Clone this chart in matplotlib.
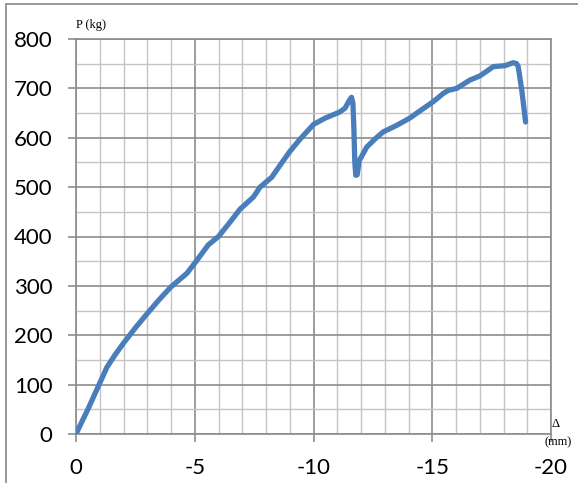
import numpy as np
import matplotlib
matplotlib.use("Agg")
import matplotlib.pyplot as plt
from matplotlib.patches import Rectangle
from matplotlib.ticker import MultipleLocator

plt.rcParams["axes.unicode_minus"] = False

# Load-deflection readings (deflection in mm, load in kg)
delta = [0, -0.5, -1.0, -1.3, -1.64, -2.0, -2.5, -3.0, -3.5, -4.0,
         -4.66, -5.0, -5.57, -6.0, -6.5, -6.9, -7.47, -7.75, -8.24, -8.66,
         -9.0, -9.43, -9.85, -10.0, -10.5, -11.1, -11.33, -11.5, -11.6,
         -11.66, -11.7, -11.74, -11.78, -11.84, -11.92, -12.24, -12.6, -12.94,
         -13.5, -14.06, -14.5, -15.04, -15.47, -15.68, -16.03, -16.59,
         -17.0, -17.3, -17.57, -18.06, -18.41, -18.55, -18.62, -18.77, -18.93]
load = [0, 50, 103, 135, 160, 184, 215, 244, 272, 298,
        325, 346, 383, 400, 430, 455, 480, 500, 520, 549,
        572, 597, 619, 627, 640, 652, 660, 675, 682,
        670, 620, 550, 524, 525, 553, 581, 598, 612,
        625, 640, 655, 673, 690, 696, 700, 717,
        725, 735, 744, 746, 752, 750, 744, 696, 632]

fig = plt.figure(figsize=(5.78, 4.83), dpi=100)
ax = fig.add_axes([76 / 578, 49 / 483, 475 / 578, 395 / 483])

ax.plot(delta, load, color="#4a7ebb", lw=3.8,
        solid_joinstyle="round", solid_capstyle="round", zorder=3)

ax.set_xlim(0, -20)
ax.set_ylim(0, 800)
ax.xaxis.set_major_locator(MultipleLocator(5))
ax.xaxis.set_minor_locator(MultipleLocator(1))
ax.yaxis.set_major_locator(MultipleLocator(100))
ax.yaxis.set_minor_locator(MultipleLocator(50))

ax.grid(which="major", color="#8c8c8c", lw=1.2)
ax.grid(which="minor", color="#c4c4c4", lw=1.0)
ax.set_axisbelow(True)
for s in ax.spines.values():
    s.set_color("#8c8c8c")
    s.set_linewidth(1.2)

ax.tick_params(which="major", length=6, width=1.2, color="#8c8c8c",
               labelsize=16, pad=11)
ax.tick_params(which="minor", length=0)
for lab in ax.get_xticklabels() + ax.get_yticklabels():
    lab.set_family("Lato")

ax.text(0, 1.035, "P (kg)", transform=ax.transAxes, ha="left", va="center",
        fontsize=9, family="Liberation Serif")
ax.text(1.0, 0.025, "\u0394", transform=ax.transAxes, ha="left", va="center",
        fontsize=9, family="Liberation Serif")
ax.text(1.015, -0.02, "(mm)", transform=ax.transAxes, ha="center", va="center",
        fontsize=9, family="Liberation Serif")

# outer chart frame
fig.patches.append(Rectangle((6 / 578, -0.1), 1.2, 1.1 - 4 / 483,
                             transform=fig.transFigure, fill=False,
                             edgecolor="#888888", lw=1.2))

fig.savefig("out.png", dpi=100)
